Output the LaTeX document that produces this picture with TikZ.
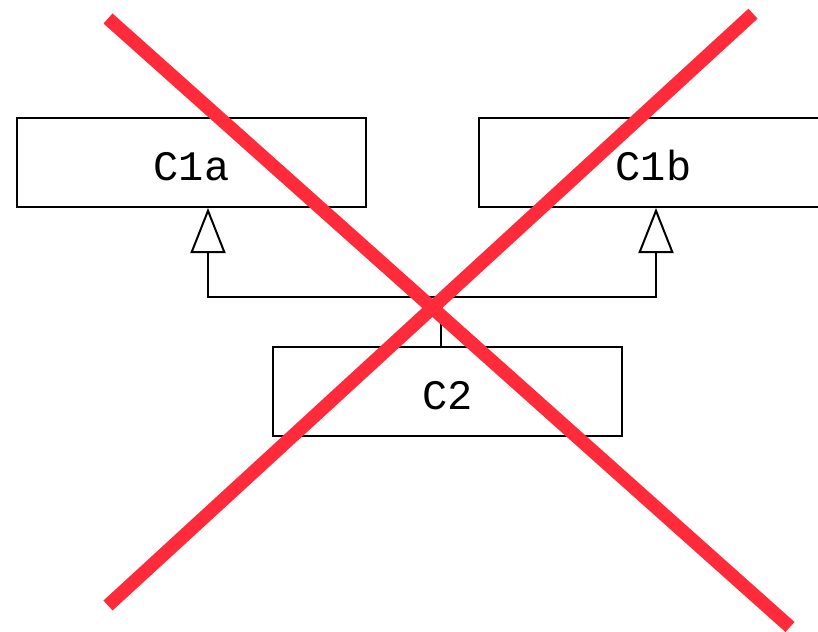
\documentclass[tikz,border=0pt]{standalone}
\usepackage{fontspec}
\setmonofont{Liberation Mono}
\usetikzlibrary{arrows.meta}
\definecolor{crossred}{RGB}{255,42,58}
\tikzset{
  box/.style={draw=black, line width=2pt, minimum width=349pt, minimum height=89pt,
    inner sep=0pt, text height=35pt, text depth=0pt,
    font=\ttfamily\fontsize{42}{42}\selectfont},
  inh/.style={line width=2pt, -{Triangle[open, length=45pt, width=35pt]}},
  link/.style={line width=2pt},
  cross/.style={line width=13.5pt, draw=crossred}
}
\begin{document}
\begin{tikzpicture}[x=1pt,y=-1pt]
\useasboundingbox (0,0) rectangle (818,631);
\clip (0,0) rectangle (818,631);
\fill[white] (0,0) rectangle (818,631);
\node[box] (c1a) at (191.5,162.5) {C1a};
\node[box] (c1b) at (653.5,162.5) {C1b};
\node[box] (c2) at (447.5,391.5) {C2};
\coordinate (j) at (441,297);
\draw[link] (j |- c2.north) -- (j);
\draw[inh] (j) -| ([xshift=16.5pt]c1a.south);
\draw[inh] (j) -| ([xshift=2.5pt]c1b.south);
\coordinate (x1a) at (108,18.5);
\coordinate (x1b) at (790,627);
\coordinate (x2a) at (753,13.7);
\coordinate (x2b) at (108,605.5);
\draw[cross] (x1a) -- (x1b);
\draw[cross] (x2a) -- (x2b);
\end{tikzpicture}
\end{document}
